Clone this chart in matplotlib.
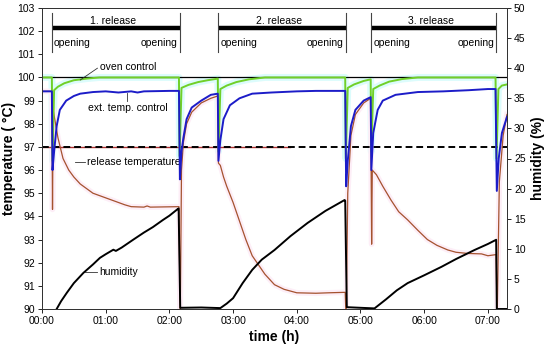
import matplotlib
matplotlib.use("Agg")
import matplotlib.pyplot as plt

plt.rcParams['font.family'] = ['Liberation Sans', 'DejaVu Sans']

# ---- data (time in hours) ----
oven_t = [0, 0.155, 0.165, 0.19, 0.25, 0.35, 0.5, 0.7, 0.9, 2.15, 2.16, 2.19, 2.3, 2.45, 2.6, 2.76,
          2.77, 2.80, 2.9, 3.05, 3.25, 3.5, 4.76, 4.77, 4.80, 4.9, 5.05, 5.16, 5.17, 5.20, 5.3,
          5.45, 5.65, 5.9, 7.12, 7.135, 7.165, 7.22, 7.30]
oven_v = [100.0, 100.0, 96.4, 99.45, 99.6, 99.75, 99.88, 99.95, 100.0, 100.0, 96.6, 99.55, 99.68,
          99.8, 99.88, 99.95, 96.8, 99.5, 99.65, 99.8, 99.92, 100.0, 100.0, 96.5, 99.55, 99.7,
          99.85, 99.92, 96.8, 99.5, 99.65, 99.82, 99.93, 100.0, 100.0, 96.5, 99.5, 99.65, 99.7]

ext_t = [0, 0.155, 0.165, 0.19, 0.23, 0.28, 0.38, 0.5, 0.6, 0.8, 1.0, 1.2, 1.4, 1.5, 1.6, 2.0,
         2.15, 2.165, 2.19, 2.22, 2.27, 2.35, 2.5, 2.65, 2.76, 2.77, 2.80, 2.85, 2.95, 3.1, 3.3,
         3.6, 4.0, 4.3, 4.76, 4.775, 4.80, 4.85, 4.92, 5.05, 5.16, 5.17, 5.2, 5.27, 5.35, 5.55,
         5.9, 6.3, 6.7, 7.0, 7.12, 7.14, 7.17, 7.22, 7.30]
ext_v = [99.4, 99.4, 96.0, 96.8, 97.9, 98.6, 99.0, 99.2, 99.3, 99.37, 99.4, 99.35, 99.4, 99.35,
         99.4, 99.42, 99.42, 95.6, 96.8, 97.4, 98.2, 98.7, 99.0, 99.25, 99.3, 96.4, 97.3, 98.2,
         98.8, 99.1, 99.3, 99.35, 99.4, 99.42, 99.42, 95.3, 96.4, 97.9, 98.6, 99.0, 99.15, 96.0,
         97.6, 98.6, 99.0, 99.25, 99.37, 99.4, 99.45, 99.5, 99.5, 95.1, 96.5, 97.6, 98.3]

rel_t = [0, 0.155, 0.165, 0.175, 0.2, 0.25, 0.33, 0.42, 0.5, 0.6, 0.7, 0.8, 0.9, 1.0, 1.1, 1.2,
         1.3, 1.4, 1.6, 1.65, 1.7, 2.15, 2.17, 2.19, 2.22, 2.27, 2.35, 2.5, 2.65, 2.76, 2.77,
         2.8, 2.85, 2.9, 3.0, 3.1, 3.2, 3.3, 3.4, 3.5, 3.65, 3.8, 4.0, 4.3, 4.5, 4.76, 4.775,
         4.80, 4.85, 4.92, 5.05, 5.16, 5.175, 5.185, 5.25, 5.35, 5.48, 5.6, 5.74, 5.9, 6.05,
         6.2, 6.37, 6.5, 6.68, 6.9, 7.0, 7.13, 7.145, 7.18, 7.24, 7.30]
rel_v = [99.4, 99.4, 94.3, 98.6, 98.2, 97.4, 96.5, 96.0, 95.7, 95.4, 95.2, 95.0, 94.9, 94.8,
         94.7, 94.6, 94.5, 94.42, 94.4, 94.45, 94.4, 94.42, 89.5, 96.0, 97.2, 98.0, 98.5, 98.9,
         99.1, 99.2, 96.3, 96.2, 95.7, 95.3, 94.6, 93.8, 93.0, 92.3, 91.9, 91.5, 91.05, 90.85,
         90.7, 90.68, 90.7, 90.72, 89.5, 95.0, 97.5, 98.4, 98.9, 99.1, 92.8, 96.0, 95.8, 95.3,
         94.7, 94.2, 93.85, 93.4, 93.0, 92.75, 92.55, 92.45, 92.4, 92.38, 92.3, 92.35, 89.5,
         95.5, 97.5, 98.4]

hum_t = [0.23, 0.3, 0.39, 0.5, 0.65, 0.8, 0.91, 1.0, 1.08, 1.12, 1.16, 1.25, 1.43, 1.6, 1.74,
         1.9, 2.0, 2.13, 2.145, 2.17, 2.5, 2.8, 2.9, 3.0, 3.15, 3.3, 3.45, 3.65, 3.9, 4.17, 4.45,
         4.6, 4.75, 4.76, 4.785, 5.0, 5.22, 5.4, 5.57, 5.74, 6.0, 6.27, 6.5, 6.79, 7.0, 7.13,
         7.14, 7.30]
hum_v = [0, 1.3, 2.7, 4.3, 6.0, 7.4, 8.5, 9.1, 9.6, 9.85, 9.65, 10.2, 11.5, 12.7, 13.6, 14.8,
         15.5, 16.6, 16.7, 0.2, 0.25, 0.15, 0.9, 1.8, 4.3, 6.5, 8.2, 9.8, 12.1, 14.3, 16.3, 17.2,
         18.1, 18.0, 0.3, 0.2, 0.1, 1.6, 3.1, 4.3, 5.6, 7.0, 8.3, 9.8, 10.8, 11.5, 0.0, 0.0]

release_labels = ["1. release", "2. release", "3. release"]
release_start = [0.16, 2.77, 5.17]
release_end = [2.16, 4.77, 7.13]
setpoint = 100.0
release_threshold = 97.0
xtick_vals = [0, 1, 2, 3, 4, 5, 6, 7]
xtick_labels = ["00:00", "01:00", "02:00", "03:00", "04:00", "05:00", "06:00", "07:00"]

# ---- figure ----
fig = plt.figure(figsize=(5.5, 3.45), dpi=100)
ax = fig.add_axes([42/550, 1-309/345, 465/550, 301/345])
ax2 = ax.twinx()

GREEN = '#70d028'
BLUE = '#1c1cc8'
BROWN = '#a5522f'

# halos
ax.plot(oven_t, oven_v, color='#dcfcfc', lw=5, zorder=1, solid_joinstyle='round')
ax.plot(rel_t, rel_v, color='#fdeef7', lw=4, zorder=1)

ax.axhline(setpoint, color='black', lw=0.9, zorder=2)
ax.plot([0, 3.9], [release_threshold]*2, color='#b03030', lw=1.0, zorder=2)
ax.axhline(release_threshold, color='black', lw=1.4, ls=(0, (3.5, 2)), zorder=3)

ax.plot(rel_t, rel_v, color=BROWN, lw=0.9, zorder=4)
ax.plot(oven_t, oven_v, color=GREEN, lw=1.4, zorder=5)
ax.plot(ext_t, ext_v, color=BLUE, lw=1.4, zorder=6)

ax2.plot(hum_t, hum_v, color='black', lw=1.4, zorder=5)

# release bars
for lab, s, e in zip(release_labels, release_start, release_end):
    ax.plot([s, e], [102.13, 102.13], color='black', lw=3.2, solid_capstyle='butt', zorder=5)
    ax.plot([s, s], [101.1, 102.8], color='#444444', lw=0.8, zorder=5)
    ax.plot([e, e], [101.1, 102.8], color='#444444', lw=0.8, zorder=5)
    ax.text((s+e)/2 - 0.05, 102.45, lab, ha='center', va='center', fontsize=7.5)
    ax.text(s + 0.03, 101.5, "opening", ha='left', va='center', fontsize=7.5)
    ax.text(e - 0.03, 101.5, "opening", ha='right', va='center', fontsize=7.5)

# annotations
ax.plot([0.6, 0.87], [99.89, 100.4], color='#333333', lw=0.6, zorder=7)
ax.text(0.91, 100.45, "oven control", ha='left', va='center', fontsize=7.5)
ax.plot([1.33, 1.33], [99.0, 99.35], color='#333333', lw=0.6, zorder=7)
ax.text(0.72, 98.68, "ext. temp. control", ha='left', va='center', fontsize=7.5)
ax.plot([0.52, 0.67], [96.35, 96.35], color='#333333', lw=0.6, zorder=7)
ax.text(0.705, 96.35, "release temperature", ha='left', va='center', fontsize=7.5)
ax.plot([0.67, 0.86], [91.6, 91.6], color='#333333', lw=0.6, zorder=7)
ax.text(0.9, 91.6, "humidity", ha='left', va='center', fontsize=7.5)

ax.set_xlim(0, 7.30)
ax.set_ylim(90, 103)
ax2.set_ylim(0, 50)
ax.set_yticks(range(90, 104))
ax2.set_yticks(range(0, 51, 5))
ax.set_xticks(xtick_vals)
ax.set_xticklabels(xtick_labels)

for a in (ax, ax2):
    a.tick_params(labelsize=7.5, length=3, width=0.6, direction='out', pad=2)
    for sp in a.spines.values():
        sp.set_linewidth(0.7)
        sp.set_color('#333333')

ax.set_xlabel("time (h)", fontsize=10, fontweight='bold', labelpad=3)
ax.set_ylabel("temperature ( °C)", fontsize=10, fontweight='bold', labelpad=1)
ax2.set_ylabel("humidity (%)", fontsize=10, fontweight='bold', labelpad=4)

fig.savefig("out.png", dpi=100)
